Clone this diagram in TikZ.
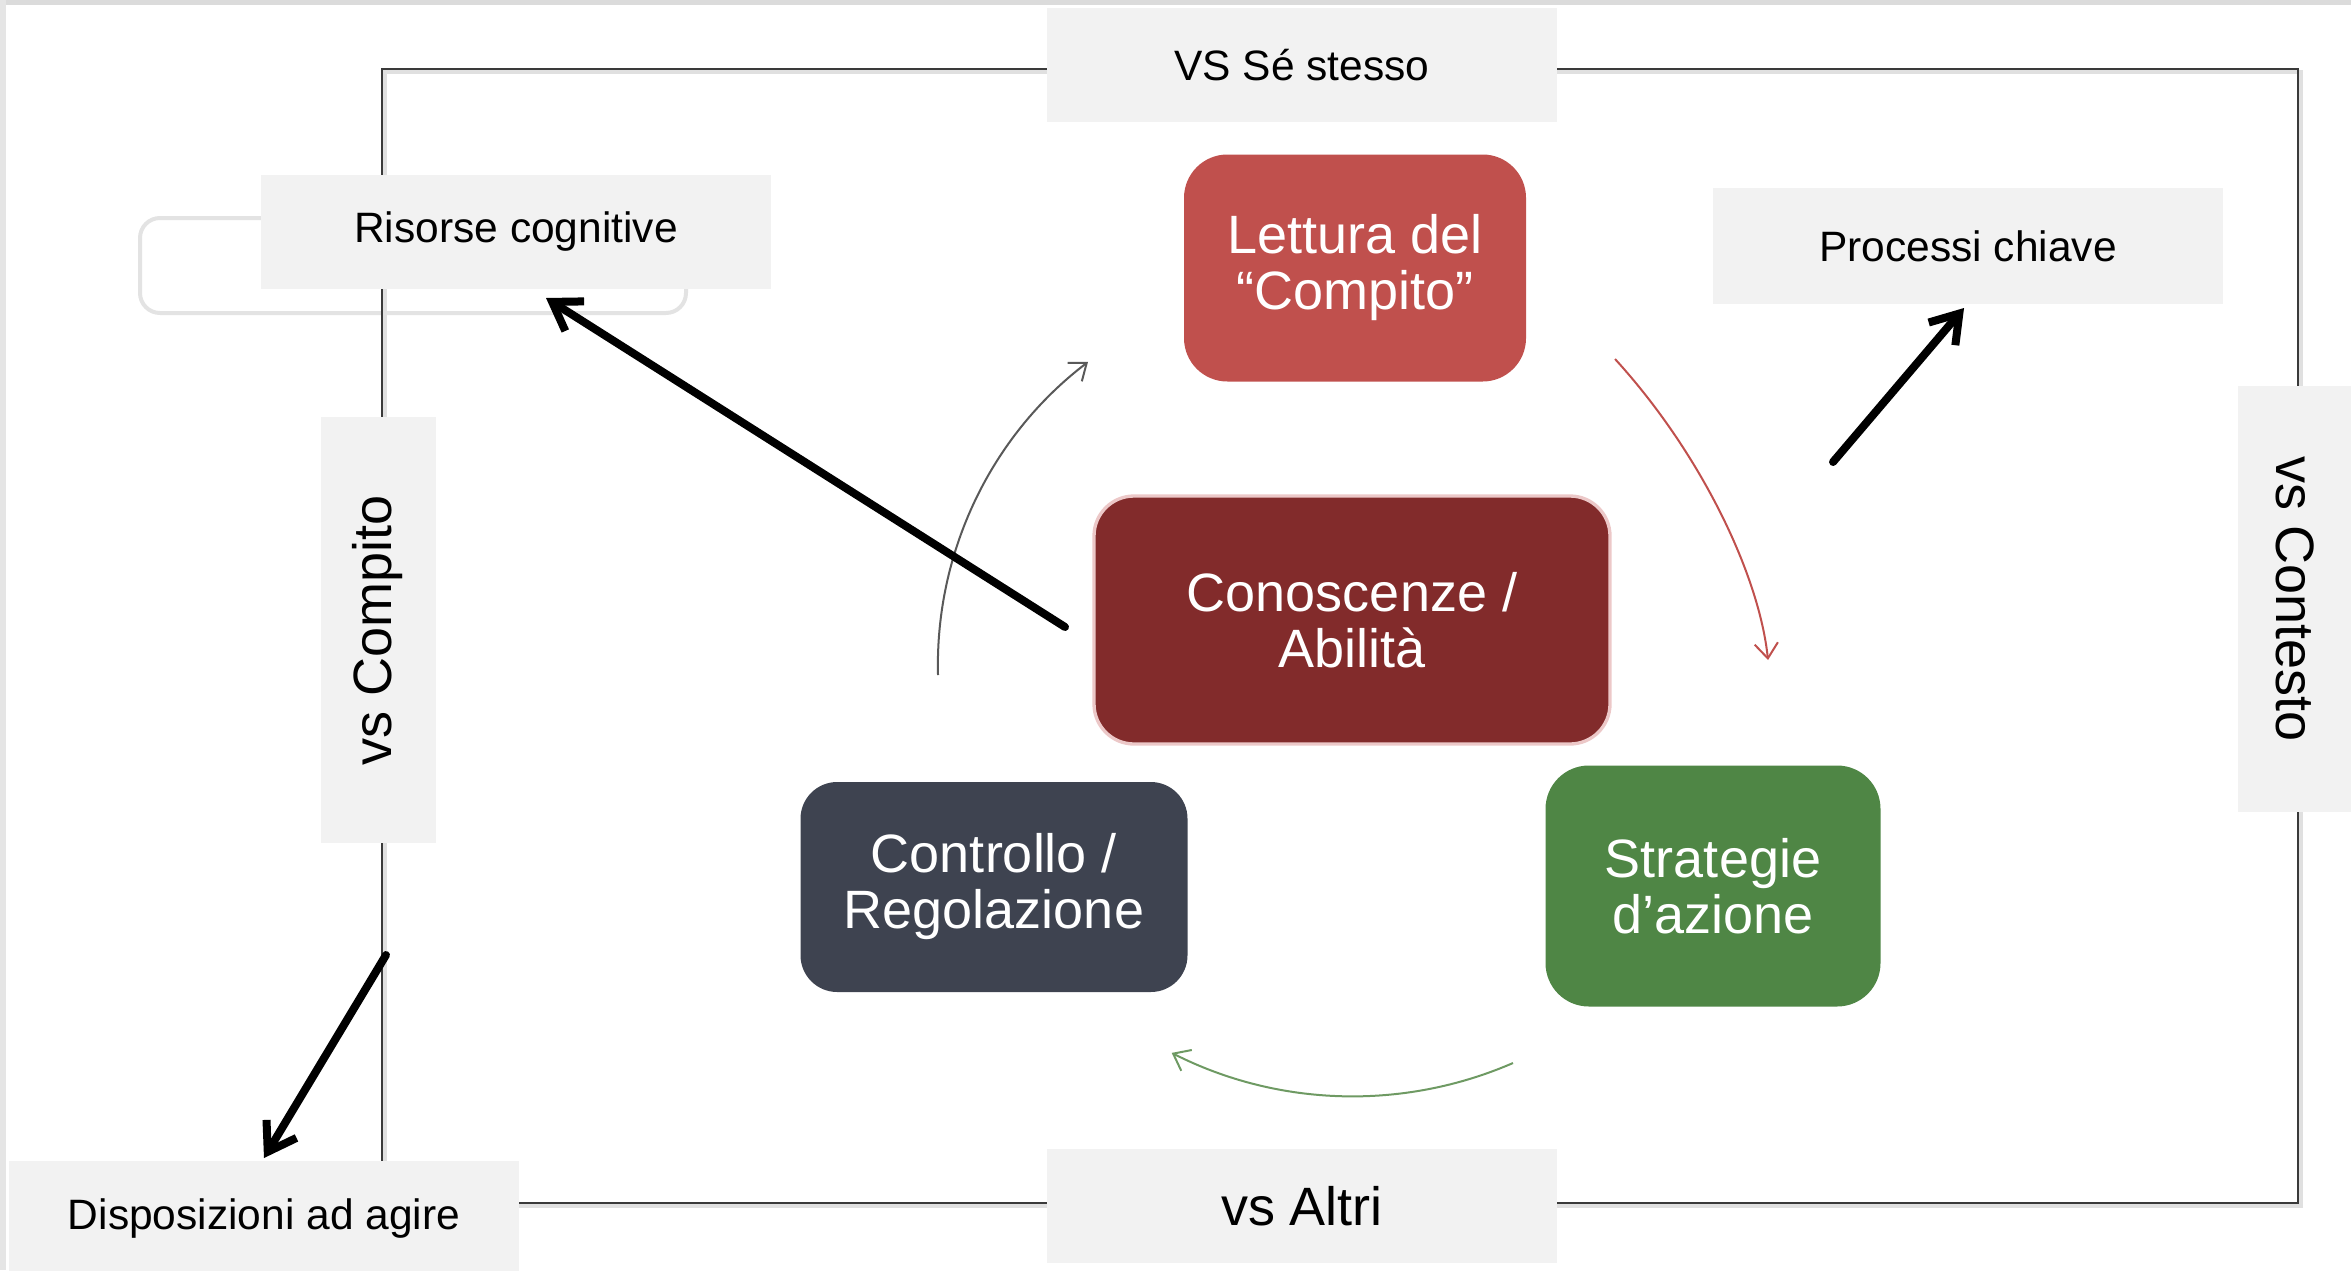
\documentclass[tikz,border=0pt]{standalone}
\usepackage{fontspec}
\setmainfont{Liberation Sans}
\usetikzlibrary{arrows.meta}
\definecolor{labfill}{HTML}{F2F2F2}
\definecolor{letturac}{HTML}{C0504D}
\definecolor{conoscc}{HTML}{822B2B}
\definecolor{controlc}{HTML}{3E4350}
\definecolor{stratc}{HTML}{4F8645}
\definecolor{framec}{HTML}{3A3A3A}
\definecolor{grayarc}{HTML}{595959}
\definecolor{redarc}{HTML}{C0504D}
\definecolor{greenarc}{HTML}{6E9A63}
\begin{document}
\begin{tikzpicture}[x=0.3pt,y=-0.3pt,
  lbl/.style={fill=labfill, inner sep=0pt, text=black, font=\fontsize{12.75}{15}\selectfont,
    minimum width=153pt, minimum height=34pt},
  biglbl/.style={fill=labfill, inner sep=0pt, text=black, font=\fontsize{16.2}{18}\selectfont},
  cbox/.style={rounded corners=13pt, inner sep=0pt, text=white, align=center,
    font=\fontsize{16.2}{16.8}\selectfont},
  thickarr/.style={line width=2.4pt, line cap=round, -{Straight Barb[length=8pt,width=10.5pt]}},
  thinarr/.style={line width=0.6pt, -{Straight Barb[length=4.5pt,width=7pt]}}
]
\useasboundingbox (0,0) rectangle (2351,1270);
% slide edges
\fill[black!14] (0,0) rectangle (2351,5);
\fill[black!10] (0,0) rectangle (6,1270);
% faint rounded outline behind "Risorse cognitive"
\draw[black!11, line width=1.2pt, rounded corners=6pt] (140,218) rectangle (686,313);
% frame with soft shadow
\draw[black!12, line width=1.2pt] (385,72) rectangle (2301,1206);
\draw[framec, line width=0.75pt] (382,69) rectangle (2298,1203);

% label boxes
\node[lbl] (sestesso) at (1302,65) {VS Sé stesso};
\node[lbl] (risorse) at (516,232) {Risorse cognitive};
\node[lbl, minimum height=34.8pt] (processi) at (1968,246) {Processi chiave};
\node[lbl] (disposizioni) at (264,1218) {Disposizioni ad agire};
\node[biglbl, minimum width=153pt, minimum height=34.2pt] (altri) at (1302,1206) {vs Altri};
\node[biglbl, rotate=90, minimum width=128pt, minimum height=34.5pt] (compito) at (378,630) {vs Compito};
\node[biglbl, rotate=-90, minimum width=128pt, minimum height=34.5pt] (contesto) at (2295,599) {vs Contesto};

% coloured boxes
\node[cbox, fill=letturac, minimum width=102.6pt, minimum height=68.1pt] (lettura) at (1355,268) {Lettura del\\“Compito”};
\node[cbox, fill=conoscc, draw={rgb,255:red,236;green,200;blue,200}, line width=1pt, rounded corners=12pt,
  minimum width=154.8pt, minimum height=74.4pt] (conoscenze) at (1352,620) {Conoscenze /\\Abilità};
\node[cbox, fill=controlc, rounded corners=11pt, minimum width=116.1pt, minimum height=63pt] (controllo) at (994,887) {Controllo /\\Regolazione};
\node[cbox, fill=stratc, minimum width=100.5pt, minimum height=72.3pt] (strategie) at (1713,886) {Strategie\\d’azione};

% arrow end points
\coordinate (c1s) at (1065,627);
\coordinate (c1e) at (546,298);
\coordinate (c2s) at (1833,462);
\coordinate (c2e) at (1964,308);
\coordinate (c3s) at (386,955);
\coordinate (c3e) at (264,1158);
\coordinate (g0) at (938,675);
\coordinate (r0) at (1615,359);
\coordinate (r3) at (1768,660);
\coordinate (v0) at (1513,1063);

% thin cycle arcs
\draw[thinarr, grayarc] (g0) arc[start angle=178.5, end angle=232.7, radius=381];
\draw[thinarr, redarc] (r0) .. controls (1700,452) and (1759,574) .. (r3);
\draw[thinarr, greenarc] (v0) arc[start angle=66.5, end angle=116.9, radius=401];

% thick black arrows
\draw[thickarr] (c1s) -- (c1e);
\draw[thickarr] (c2s) -- (c2e);
\draw[thickarr] (c3s) -- (c3e);
\end{tikzpicture}
\end{document}
